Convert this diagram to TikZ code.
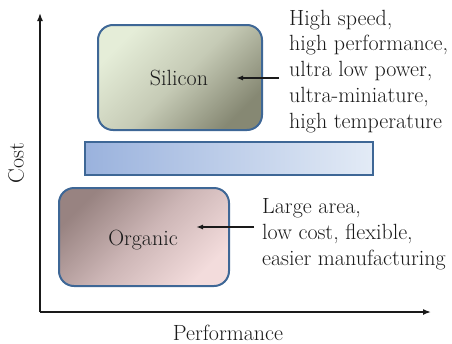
\documentclass[tikz,border=0pt]{standalone}
\usepackage{xcolor}
\usepackage{tikz}
\usetikzlibrary{arrows.meta, positioning}
\definecolor{Ink}{HTML}{1A1A1A}
\definecolor{Edge}{HTML}{3E6796}
\definecolor{SiliconLight}{HTML}{E5EDD8}
\definecolor{SiliconMid}{HTML}{C6CBB6}
\definecolor{SiliconDark}{HTML}{868873}
\definecolor{OrganicDark}{HTML}{988381}
\definecolor{OrganicMid}{HTML}{CDB6B6}
\definecolor{OrganicLight}{HTML}{F3DCDC}
\definecolor{BandLeft}{HTML}{9AB2DD}
\definecolor{BandRight}{HTML}{E3EBF6}

\begin{document}
\begin{tikzpicture}[
  x=1pt, y=-1pt,
  font=\fontsize{22}{25.7}\selectfont,
  box/.style={draw=Edge, line width=2pt, rounded corners=15pt, align=center, inner sep=0pt},
  silicon/.style={box, top color=SiliconLight, bottom color=SiliconDark, middle color=SiliconMid, shading angle=45},
  organic/.style={box, top color=OrganicDark, bottom color=OrganicLight, middle color=OrganicMid, shading angle=45},
  band/.style={draw=Edge, line width=2pt, left color=BandLeft, right color=BandRight, inner sep=0pt},
  notes/.style={align=left, inner sep=0pt, anchor=base west, text=Ink},
  axis/.style={-{Latex[length=8pt, width=6pt]}, line width=1.5pt, draw=Ink},
  arrow/.style={-{Latex[length=7pt, width=5pt]}, line width=1.5pt, draw=Ink}
]
\useasboundingbox (0,0) rectangle (452,343);

\coordinate (origin) at (40,312);
\coordinate (ytop) at (40,13);
\coordinate (xend) at (431,312);
\draw[axis] (origin) -- (ytop);
\draw[axis] (origin) -- (xend);
\node[rotate=90, text=Ink] (cost) at (16,163) {Cost};
\node[anchor=base, text=Ink] (perf) at (228,340) {Performance};

\node[silicon, minimum width=164pt, minimum height=105pt] (silicon) at (180,77.5) {};
\node[anchor=base, text=Ink] (siltext) at (179,85) {Silicon};
\node[band, minimum width=288pt, minimum height=33pt] (band) at (229,158.5) {};
\node[organic, minimum width=170pt, minimum height=98pt] (organic) at (144,237) {};
\node[anchor=base, text=Ink] (orgtext) at (143,245) {Organic};

\node[notes] (silnotes) at (289,128) {High speed,\\high performance,\\ultra low power,\\ultra-miniature,\\high temperature};
\node[notes] (orgnotes) at (262,265) {Large area,\\low cost, flexible,\\easier manufacturing};

\coordinate (silfrom) at (279,78);
\coordinate (silto) at (236,78);
\coordinate (orgfrom) at (254,227);
\coordinate (orgto) at (196,227);
\draw[arrow] (silfrom) -- (silto);
\draw[arrow] (orgfrom) -- (orgto);
\end{tikzpicture}
\end{document}
